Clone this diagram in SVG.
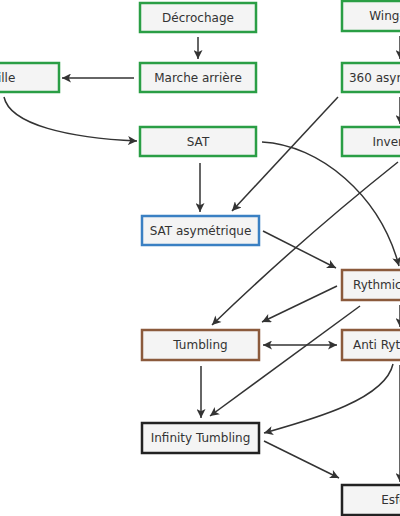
<svg xmlns="http://www.w3.org/2000/svg" width="400" height="516" viewBox="0 0 400 516">
<style>
.n rect{fill:#f4f4f4;stroke-width:2.5}
.g rect{stroke:#2a9e45}
.b rect{stroke:#3a80c3}
.r rect{stroke:#8b5a3c}
.k rect{stroke:#222}
.n text{font-family:"DejaVu Sans",sans-serif;font-size:12px;fill:#333;text-anchor:middle}
.n text.s{text-anchor:start}
.e path{fill:none;stroke:#333;stroke-width:1.5;marker-end:url(#a)}
</style>
<defs>
<marker id="a" viewBox="0 0 10 10" refX="10" refY="5" markerUnits="userSpaceOnUse" markerWidth="10" markerHeight="9" orient="auto-start-reverse">
<path d="M0,0 L10,5 L0,10 L2.5,5 z" fill="#333"/>
</marker>
</defs>
<rect width="400" height="516" fill="#fff"/>
<g class="e" id="connectors">
<path d="M198,37 L198,59"/>
<path d="M134,78 L62,78"/>
<path d="M4,97 C10,125 70,138 137,141"/>
<path d="M200,163 L200,212"/>
<path d="M338,97 L232,211"/>
<path d="M262,142 C320,145 380,195 399,266"/>
<path d="M398,162 Q300,240 212,325"/>
<path d="M263,231 L336,268"/>
<path d="M337,286 L262,322"/>
<path d="M360,306 L210,416"/>
<path d="M263,345 L337,345" style="marker-start:url(#a)"/>
<path d="M201,366 L201,418"/>
<path d="M393,364 C385,400 310,420 264,433"/>
<path d="M264,441 L339,478"/>
<path d="M400,36 L400,59"/>
<path d="M400,97 L400,124"/>
<path d="M400,305 L400,327"/>
<path d="M400,365 L400,482"/>
</g>
<g class="n g" id="decrochage"><rect x="140" y="3" width="116" height="29"/><text x="198" y="22">Décrochage</text></g>
<g class="n g" id="marche"><rect x="140" y="63" width="116" height="29"/><text x="198" y="82">Marche arrière</text></g>
<g class="n g" id="vrille"><rect x="-58" y="63" width="117" height="29"/><text x="0" y="82">Vrille</text></g>
<g class="n g" id="sat"><rect x="140" y="127" width="116" height="29"/><text x="198" y="146">SAT</text></g>
<g class="n g" id="wingover"><rect x="342" y="1" width="116" height="30"/><text x="400" y="20">Wing-over</text></g>
<g class="n g" id="asym360"><rect x="342" y="63" width="116" height="29"/><text x="400" y="82">360 asymétrique</text></g>
<g class="n g" id="inversion"><rect x="342" y="127" width="116" height="29"/><text x="400" y="146">Inversion</text></g>
<g class="n b" id="satasym"><rect x="142" y="216" width="117" height="29"/><text x="200.5" y="235">SAT asymétrique</text></g>
<g class="n r" id="rythmic"><rect x="342" y="270" width="116" height="30"/><text class="s" x="353" y="289">Rythmic SAT</text></g>
<g class="n r" id="tumbling"><rect x="142" y="330" width="117" height="30"/><text x="200.5" y="349">Tumbling</text></g>
<g class="n r" id="antirythmic"><rect x="342" y="330" width="116" height="30"/><text class="s" x="353" y="349">Anti Rythmic SAT</text></g>
<g class="n k" id="infinity"><rect x="142" y="423" width="117" height="30"/><text x="200.5" y="442">Infinity Tumbling</text></g>
<g class="n k" id="esfera"><rect x="342" y="485" width="116" height="30"/><text x="400" y="504">Esfera</text></g>
</svg>
